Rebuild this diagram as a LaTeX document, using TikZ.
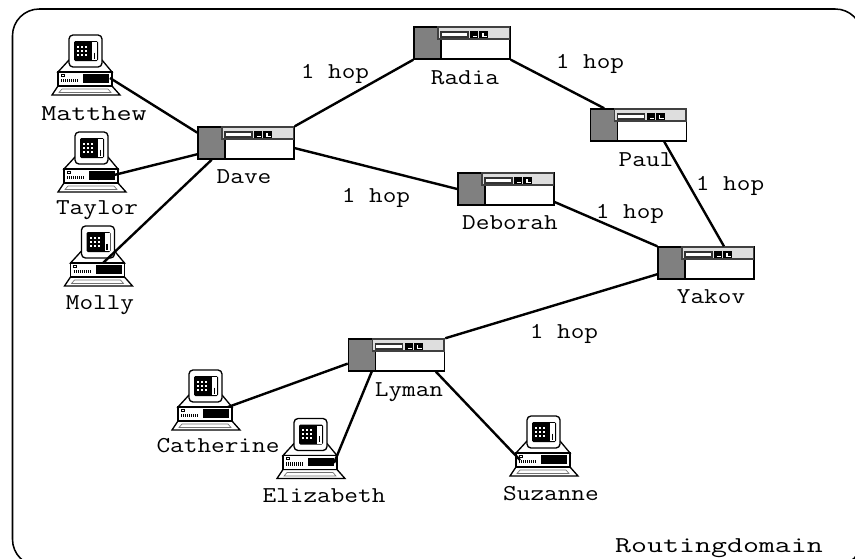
\documentclass[tikz,border=0pt]{standalone}
\usepackage{fontspec}
\newfontfamily\labelfont[FakeStretch=1.17]{Latin Modern Mono}
\newfontfamily\widelabelfont[FakeStretch=1.29]{Latin Modern Mono}
\newfontfamily\domainfont[FakeStretch=1.37]{Latin Modern Mono}
\definecolor{routergray}{RGB}{128,128,128}
\definecolor{panelgray}{RGB}{222,222,222}
\tikzset{
  link/.style={line width=1.8pt},
  outline/.style={draw=black,line width=1pt},
  routerbox/.style={draw=black,line width=1.1pt,fill=white,minimum width=72pt,minimum height=24pt,inner sep=0pt},
  tag/.style={anchor=base,inner sep=0pt,font=\labelfont\fontsize{17pt}{18pt}\selectfont},
  widetag/.style={anchor=base,inner sep=0pt,font=\widelabelfont\fontsize{17pt}{18pt}\selectfont},
  domaintag/.style={anchor=base,inner sep=0pt,font=\domainfont\fontsize{17pt}{18pt}\selectfont},
  router/.pic={
    \node[routerbox] (-box) at (48,16) {};
    \draw[line width=1.1pt,fill=routergray] (0,0) rectangle (27,32);
    \draw[line width=1.1pt,draw=black!75,fill=panelgray] (24,0) rectangle (95.5,12);
    \draw[line width=0.9pt,draw=black!80,fill=white] (27,5) rectangle (54,10);
    \fill[black] (56,4) rectangle (64,10.5);
    \fill[black] (65,4) rectangle (74,10.5);
    \fill[white] (59,8.5) rectangle (63,9.3);
    \fill[white] (68,5.5) rectangle (69.5,9.3);
    \fill[white] (68,8.5) rectangle (73,9.3);
  },
  host/.pic={
    %shoulder under the screen
    \draw[outline,fill=white] (-28,6) -- (-17,-6) -- (16,-6) -- (26,6) -- cycle;
    %screen
    \draw[outline,fill=white,rounded corners=3pt] (-17,-31) rectangle (16,1);
    \fill[black,rounded corners=1pt] (-12,-25) rectangle (12,-5);
    \fill[white] (6,-24) rectangle (11,-6);
    \draw[black,line width=0.8pt] (8.5,-13.5) -- (8.5,-7.5);
    \foreach \dotx in {-9,-5,-1}
      \foreach \doty in {-20.5,-16.5,-12.5}
        \fill[white] (\dotx,\doty) rectangle +(2.4,2.2);
    %keyboard
    \draw[outline,fill=white] (-28,20) -- (26,20) -- (34,29) -- (-34,29) -- cycle;
    \draw[draw=black!55,line width=0.5pt] (-24,23) -- (22,23) -- (25,26.5) -- (-27,26.5) -- cycle;
    %case
    \draw[outline,fill=white] (-28,6) rectangle (26,20);
    \fill[black] (-3,8) rectangle (23,16.5);
    \draw[black,line width=0.4pt] (-25,8) rectangle (-22,10);
    \draw[black,line width=2.4pt,dash pattern=on 0.75pt off 0.75pt] (-25,14.5) -- (-7,14.5);
  }
}
\begin{document}
\begin{tikzpicture}[x=0.75pt,y=-0.75pt]
\useasboundingbox (0,0) rectangle (855,558);
\clip (0,0) rectangle (855,558);

%Routing domain border
\draw[line width=1.15pt,rounded corners=20pt] (12.5,9) rectangle (862,566);

%Hosts
\pic (matthew) at (86,66) {host};
\pic (taylor) at (92,163) {host};
\pic (molly) at (98.5,257) {host};
\pic (catherine) at (206,401) {host};
\pic (elizabeth) at (311,449.5) {host};
\pic (suzanne) at (544,447) {host};

%Routers
\pic (dave) at (198,127) {router};
\pic (radia) at (414,27) {router};
\pic (paul) at (590.5,109) {router};
\pic (deborah) at (458,173) {router};
\pic (yakov) at (658,247) {router};
\pic (lyman) at (348.5,339) {router};

%Free ends on the hosts
\coordinate (matthew-port) at (110,78);
\coordinate (taylor-port) at (98,179);
\coordinate (molly-port) at (103,263);
\coordinate (catherine-port) at (228,407);
\coordinate (elizabeth-port) at (334,463);
\coordinate (suzanne-port) at (520,460);

%Links
\draw[link] (matthew-port) -- (dave-box.168);
\draw[link] (taylor-port) -- (dave-box.193);
\draw[link] (molly-port) -- (dave-box.206);
\draw[link] (dave-box.north east) -- (radia-box.south west);
\draw[link] (dave-box.-6) -- (deborah-box.west);
\draw[link] (radia-box.south east) -- (paul-box.154);
\draw[link] (paul-box.-33) -- (yakov-box.43);
\draw[link] (deborah-box.-15) -- (yakov-box.north west);
\draw[link] (yakov-box.193) -- (lyman-box.north east);
\draw[link] (catherine-port) -- (lyman-box.190);
\draw[link] (elizabeth-port) -- (lyman-box.214);
\draw[link] (suzanne-port) -- (lyman-box.-23);

% Text Nodes
\node[widetag] (matthew-tag) at (94,120) {Matthew};
\node[tag] (taylor-tag) at (97,214) {Taylor};
\node[tag] (molly-tag) at (100,309) {Molly};
\node[tag] (dave-tag) at (244,183) {Dave};
\node[tag] (radia-tag) at (465,84) {Radia};
\node[tag] (paul-tag) at (646,166) {Paul};
\node[tag] (deborah-tag) at (510,229) {Deborah};
\node[tag] (yakov-tag) at (711,303) {Yakov};
\node[tag] (lyman-tag) at (409,396) {Lyman};
\node[tag] (catherine-tag) at (218,452) {Catherine};
\node[tag] (elizabeth-tag) at (324,502) {Elizabeth};
\node[tag] (suzanne-tag) at (551,500) {Suzanne};
\node[tag] (hop-dave-radia) at (335,78) {1 hop};
\node[tag] (hop-radia-paul) at (590,68) {1 hop};
\node[tag] (hop-dave-deborah) at (376,202) {1 hop};
\node[tag] (hop-deborah-yakov) at (630,218) {1 hop};
\node[tag] (hop-paul-yakov) at (730,190) {1 hop};
\node[tag] (hop-yakov-lyman) at (564,338) {1 hop};
\node[domaintag] (domain-tag) at (719,552) {Routingdomain};

\end{tikzpicture}
\end{document}
